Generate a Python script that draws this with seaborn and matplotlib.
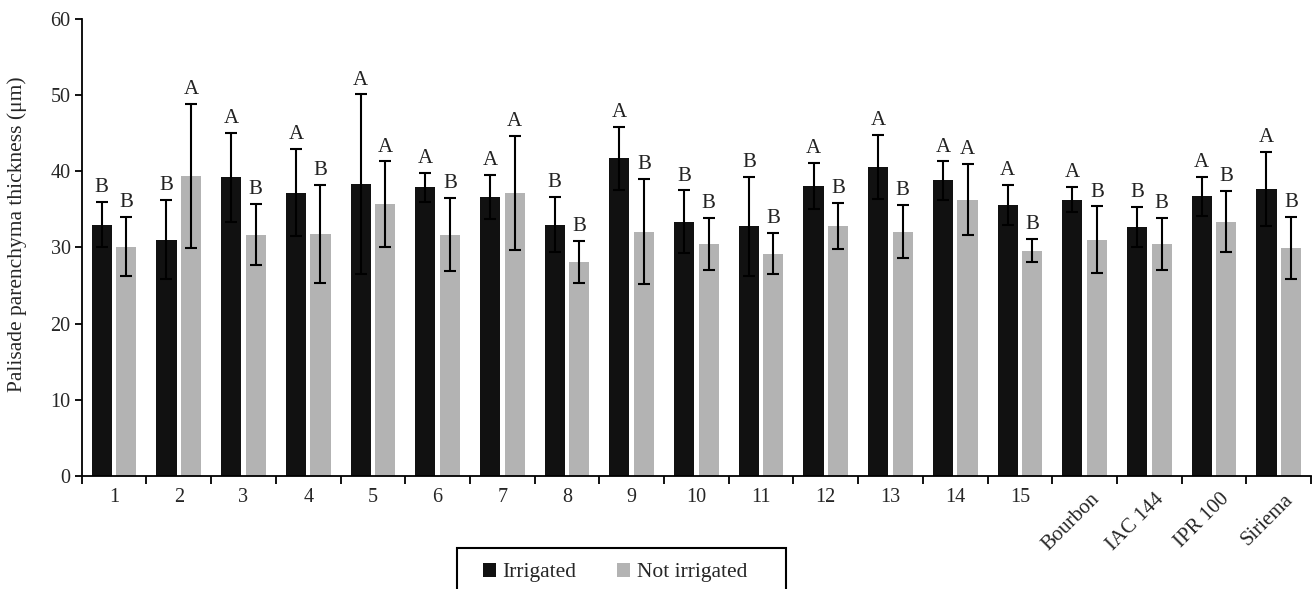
import numpy as np
import pandas as pd
import seaborn as sns
import matplotlib.pyplot as plt
import matplotlib.transforms as mtransforms
from matplotlib.patches import Patch, Rectangle
from matplotlib.ticker import FixedLocator

# data
genotypes = ["1", "2", "3", "4", "5", "6", "7", "8", "9", "10", "11", "12", "13",
             "14", "15", "Bourbon", "IAC 144", "IPR 100", "Siriema"]
irrigated = [33.0, 31.0, 39.2, 37.2, 38.3, 37.9, 36.6, 33.0, 41.7, 33.4,
             32.8, 38.1, 40.6, 38.8, 35.6, 36.3, 32.7, 36.7, 37.7]
irrigated_sd = [3.0, 5.2, 5.8, 5.7, 11.8, 1.9, 2.9, 3.6, 4.1, 4.1,
                6.5, 3.0, 4.2, 2.5, 2.65, 1.65, 2.6, 2.55, 4.9]
irrigated_letters = ["B", "B", "A", "A", "A", "A", "A", "B", "A", "B",
                     "B", "A", "A", "A", "A", "A", "B", "A", "A"]
not_irrigated = [30.1, 39.4, 31.7, 31.8, 35.7, 31.7, 37.2, 28.1, 32.1, 30.5,
                 29.2, 32.8, 32.1, 36.3, 29.6, 31.0, 30.5, 33.4, 29.9]
not_irrigated_sd = [3.9, 9.5, 4.0, 6.4, 5.6, 4.8, 7.5, 2.8, 6.9, 3.4,
                    2.7, 3.0, 3.5, 4.7, 1.5, 4.4, 3.4, 4.0, 4.1]
not_irrigated_letters = ["B", "A", "B", "B", "A", "B", "A", "B", "B", "B",
                         "B", "B", "B", "A", "B", "B", "B", "B", "B"]
treatments = ["Irrigated", "Not irrigated"]
colors = ["#111111", "#b3b3b3"]

df = pd.DataFrame({
    "Genotype": genotypes * 2,
    "Treatment": [treatments[0]] * len(genotypes) + [treatments[1]] * len(genotypes),
    "Thickness": irrigated + not_irrigated,
})

sns.set_style("ticks")
plt.rcParams["font.family"] = ["Liberation Serif", "DejaVu Serif"]

fig = plt.figure(figsize=(13.12, 5.89), dpi=100)
ax = fig.add_axes([0.0623, 0.1919, 0.937, 0.7758])

sns.barplot(data=df, x="Genotype", y="Thickness", hue="Treatment",
            palette=colors, width=0.76, gap=0.18, errorbar=None,
            saturation=1, linewidth=0, legend=False, ax=ax)

# error bars + letters
series = [(irrigated, irrigated_sd, irrigated_letters),
          (not_irrigated, not_irrigated_sd, not_irrigated_letters)]
for cont, (vals, sds, letters) in zip(ax.containers, series):
    xs = [p.get_x() + p.get_width() / 2 for p in cont]
    ax.errorbar(xs, vals, yerr=sds, fmt="none", ecolor="black",
                elinewidth=1.5, capsize=4, capthick=1.5, zorder=3)
    for x, v, s, l in zip(xs, vals, sds, letters):
        ax.annotate(l, (x, v + s), xytext=(0, 3.5), textcoords="offset points",
                    ha="center", va="bottom", fontsize=15, color="#222222")

ax.set_ylim(0, 60)
ax.set_yticks(range(0, 61, 10))
ax.set_xlim(-0.5, len(genotypes) - 0.5)
ax.xaxis.set_minor_locator(FixedLocator(np.arange(-0.5, len(genotypes), 1)))
ax.tick_params(axis="x", which="major", length=0, pad=9, labelsize=14.5)
ax.tick_params(axis="x", which="minor", length=6, width=1.3, color="black")
ax.tick_params(axis="y", length=5, width=1.3, color="black", labelsize=14.5, pad=3)
ax.set_xlabel("")
ax.set_ylabel("")
sns.despine(ax=ax)
for s in ["left", "bottom"]:
    ax.spines[s].set_linewidth(1.3)
    ax.spines[s].set_color("black")

# cultivar names are slanted, numbers stay flat
shift = mtransforms.ScaledTranslation(12 / 100, -8 / 100, fig.dpi_scale_trans)
for tick in ax.xaxis.get_major_ticks():
    lab = tick.label1
    if not lab.get_text().isdigit():
        lab.set_rotation(45)
        lab.set_ha("right")
        lab.set_va("center")
        lab.set_rotation_mode("anchor")
        lab.set_fontsize(15)
        lab.set_transform(lab.get_transform() + shift)

fig.text(17.5 / 1312, 1 - 234.5 / 589, "Palisade parenchyma thickness (μm)",
         rotation=90, ha="center", va="center", fontsize=15.5)

# legend
handles = [Patch(facecolor=c, edgecolor="none", label=t) for c, t in zip(colors, treatments)]
fig.legend(handles=handles, loc="center", bbox_to_anchor=(615 / 1312, 1 - 572.7 / 589),
           ncol=2, frameon=False, handlelength=0.6, handleheight=0.6,
           handletextpad=0.3, columnspacing=1.9, fontsize=15.5)
fig.add_artist(Rectangle((457 / 1312, -0.05), (786 - 457) / 1312, 0.05 + 1 - 547.7 / 589,
                         transform=fig.transFigure, fill=False, lw=1.5, ec="black"))

fig.savefig("out.png", dpi=100)
